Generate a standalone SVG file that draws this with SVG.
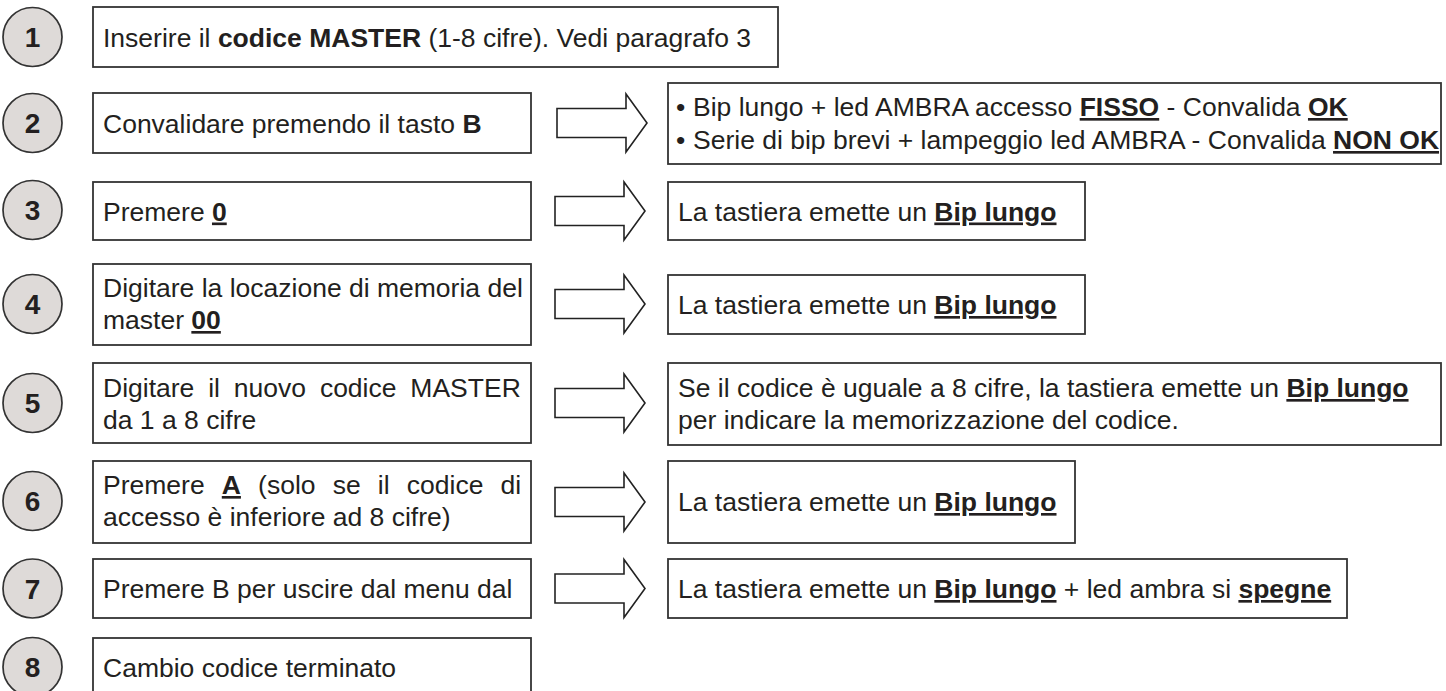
<svg xmlns="http://www.w3.org/2000/svg" width="1446" height="691" viewBox="0 0 1446 691">
<style>
  text { font-family: "Liberation Sans", Arial, sans-serif; font-size: 26.5px; fill: #231f20; }
  .b { font-weight: bold; }
  .u { font-weight: bold; text-decoration: underline; }
  .num { font-weight: bold; text-anchor: middle; font-size: 28px; }
  .circ { fill: #dedad8; stroke: #333; stroke-width: 1.7; }
  .box { fill: #fff; stroke: #333; stroke-width: 1.8; }
  .arr { fill: #fff; stroke: #222; stroke-width: 1.6; stroke-linejoin: miter; }
</style>
<defs>
  <path id="arrow" d="M0,-14.5 H69 V-29 L90,0 L69,29 V14.5 H0 Z"/>
</defs>
<rect width="1446" height="691" fill="#fff"/>

<g id="connectors">
  <use href="#arrow" class="arr" x="557" y="123"/>
  <use href="#arrow" class="arr" x="555" y="211"/>
  <use href="#arrow" class="arr" x="555" y="304"/>
  <use href="#arrow" class="arr" x="555" y="403"/>
  <use href="#arrow" class="arr" x="555" y="502"/>
  <use href="#arrow" class="arr" x="555" y="588.5"/>
</g>

<g id="step1">
  <circle class="circ" cx="32.5" cy="37" r="29.5"/>
  <text class="num" x="32.5" y="47">1</text>
  <rect class="box" x="93" y="7" width="685" height="60"/>
  <text x="103" y="46.5">Inserire il <tspan class="b">codice MASTER</tspan> (1-8 cifre). Vedi paragrafo 3</text>
</g>

<g id="step2">
  <circle class="circ" cx="32.5" cy="123" r="29.5"/>
  <text class="num" x="32.5" y="133">2</text>
  <rect class="box" x="93" y="93" width="438" height="60"/>
  <text x="103" y="132.5">Convalidare premendo il tasto <tspan class="b">B</tspan></text>
</g>
<g id="result2">
  <rect class="box" x="668" y="83" width="773" height="81"/>
  <text x="676" y="116">• <tspan x="693">Bip lungo + led AMBRA accesso </tspan><tspan class="u">FISSO</tspan> - Convalida <tspan class="u">OK</tspan></text>
  <text x="676" y="149">• <tspan x="693">Serie di bip brevi + lampeggio led AMBRA - Convalida </tspan><tspan class="u">NON OK</tspan></text>
</g>

<g id="step3">
  <circle class="circ" cx="32.5" cy="210" r="29.5"/>
  <text class="num" x="32.5" y="220">3</text>
  <rect class="box" x="93" y="182" width="438" height="58"/>
  <text x="103" y="220.5">Premere <tspan class="u">0</tspan></text>
</g>
<g id="result3">
  <rect class="box" x="668" y="182" width="417" height="58"/>
  <text x="678" y="220.5">La tastiera emette un <tspan class="u">Bip lungo</tspan></text>
</g>

<g id="step4">
  <circle class="circ" cx="32.5" cy="304" r="29.5"/>
  <text class="num" x="32.5" y="314">4</text>
  <rect class="box" x="93" y="264" width="438" height="81"/>
  <text x="103" y="297">Digitare la locazione di memoria del</text>
  <text x="103" y="329">master <tspan class="u">00</tspan></text>
</g>
<g id="result4">
  <rect class="box" x="668" y="275" width="417" height="59"/>
  <text x="678" y="314">La tastiera emette un <tspan class="u">Bip lungo</tspan></text>
</g>

<g id="step5">
  <circle class="circ" cx="32.5" cy="403" r="29.5"/>
  <text class="num" x="32.5" y="413">5</text>
  <rect class="box" x="93" y="363" width="438" height="80"/>
  <text x="103" y="397" word-spacing="6.5">Digitare il nuovo codice MASTER</text>
  <text x="103" y="429">da 1 a 8 cifre</text>
</g>
<g id="result5">
  <rect class="box" x="668" y="363" width="773" height="82"/>
  <text x="678" y="397">Se il codice è uguale a 8 cifre, la tastiera emette un <tspan class="u">Bip lungo</tspan></text>
  <text x="678" y="429">per indicare la memorizzazione del codice.</text>
</g>

<g id="step6">
  <circle class="circ" cx="32.5" cy="501" r="29.5"/>
  <text class="num" x="32.5" y="511">6</text>
  <rect class="box" x="93" y="461" width="438" height="82"/>
  <text x="103" y="494" word-spacing="9.8">Premere <tspan class="u">A</tspan> (solo se il codice di</text>
  <text x="103" y="526">accesso è inferiore ad 8 cifre)</text>
</g>
<g id="result6">
  <rect class="box" x="668" y="461" width="407" height="82"/>
  <text x="678" y="511">La tastiera emette un <tspan class="u">Bip lungo</tspan></text>
</g>

<g id="step7">
  <circle class="circ" cx="32.5" cy="588.5" r="29.5"/>
  <text class="num" x="32.5" y="598.5">7</text>
  <rect class="box" x="93" y="559" width="438" height="59"/>
  <text x="103" y="598">Premere B per uscire dal menu dal</text>
</g>
<g id="result7">
  <rect class="box" x="668" y="559" width="679" height="59"/>
  <text x="678" y="598">La tastiera emette un <tspan class="u">Bip lungo</tspan> + led ambra si <tspan class="u">spegne</tspan></text>
</g>

<g id="step8">
  <circle class="circ" cx="32.5" cy="667" r="29.5"/>
  <text class="num" x="32.5" y="677">8</text>
  <rect class="box" x="93" y="638" width="438" height="60"/>
  <text x="103" y="677">Cambio codice terminato</text>
</g>
</svg>
